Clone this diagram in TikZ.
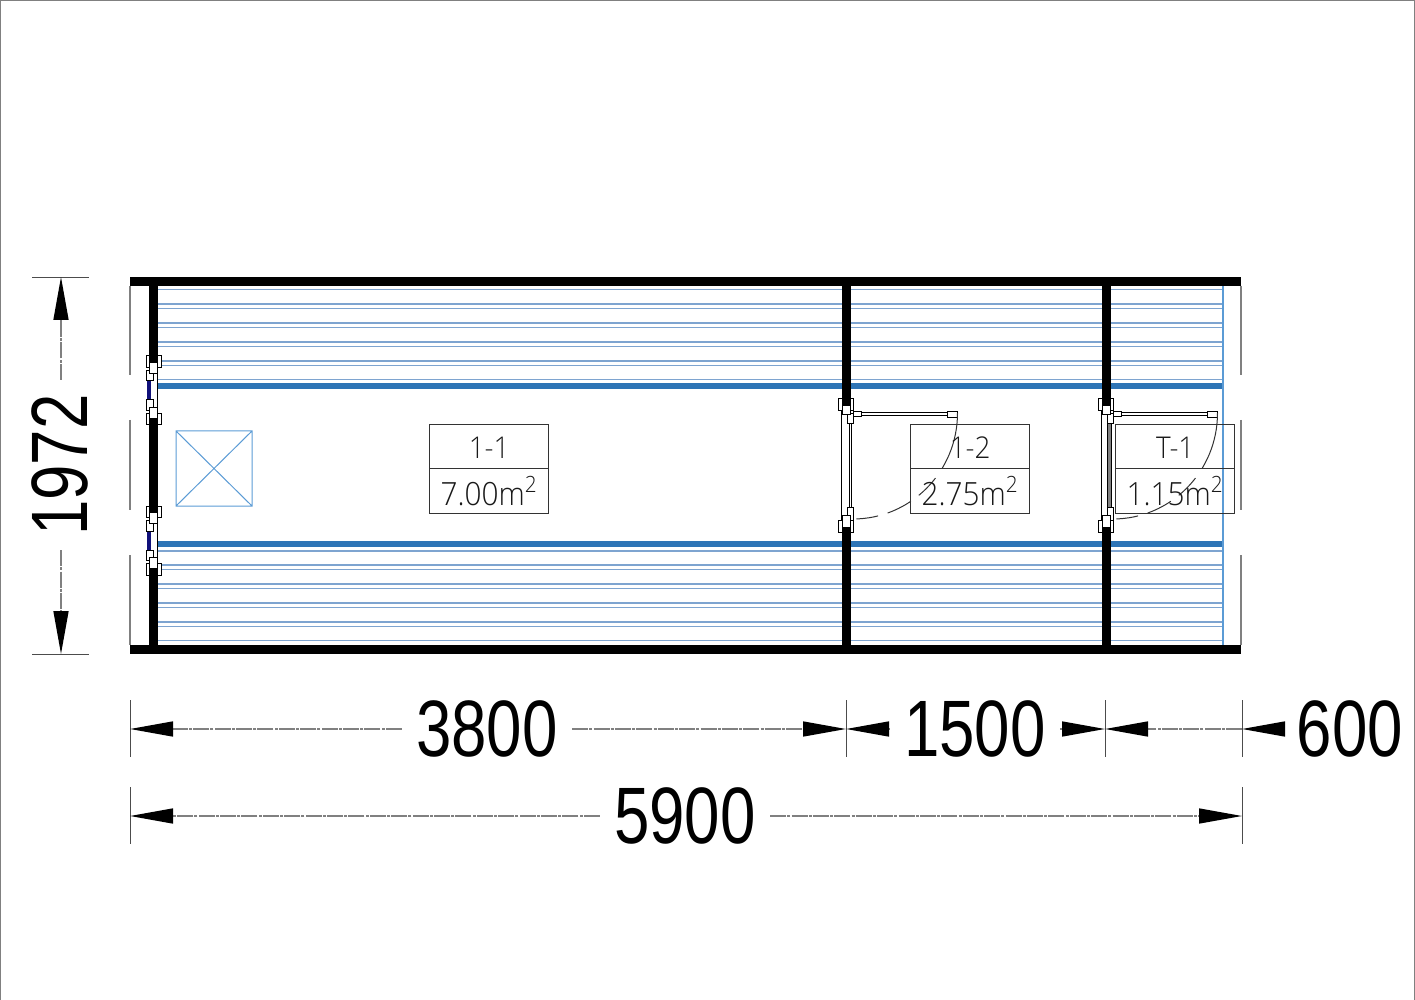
\documentclass[tikz,border=0pt]{standalone}
\usepackage{fontspec}
\usetikzlibrary{arrows.meta}
\setmainfont{Open Sans}
\newfontfamily\dimfont[FakeStretch=0.795]{Liberation Sans}
\newfontfamily\labelfont[FakeStretch=0.93]{Open Sans Light}
\definecolor{bandblue}{HTML}{2E75B6}
\definecolor{slatblue}{HTML}{7EA4D0}
\definecolor{thinblue}{HTML}{5B9BD5}
\definecolor{glassblue}{HTML}{10107A}
\tikzset{
	wall/.style={fill=black, draw=none},
	slat/.style={color=slatblue, line width=0.85pt},
	band/.style={color=bandblue, line width=3pt},
	part/.style={draw=black, fill=white, line width=0.4pt},
	side/.style={color=gray, line width=0.7pt},
	extline/.style={color=black!70, line width=0.45pt},
	dimline/.style={color=gray, line width=0.75pt, dash pattern=on 8pt off 0.6pt on 1.5pt off 0.6pt, -{Triangle[black, length=21.5pt, width=7.5pt]}},
	dimtext/.style={font=\dimfont\fontsize{40}{40}\selectfont, inner sep=7pt},
	roombox/.style={draw=black!80, line width=0.5pt},
	roomtext/.style={font=\labelfont\fontsize{15}{16}\selectfont, text=black!90, inner sep=0pt},
	swing/.style={color=black!80, line width=0.5pt}
}
\begin{document}
\begin{tikzpicture}[x=0.5pt, y=-0.5pt]
	\useasboundingbox (0, 0) rectangle (1415, 1000);
	% page edge
	\draw[color=gray, line width=0.5pt] (0.5, 1000) -- (0.5, 0.5) -- (1414.5, 0.5) -- (1414.5, 1000);

	% slats, each room
	\foreach \y in {289.5, 304, 308.5, 323, 327.5, 342, 346.5, 361, 365.5, 379.5, 551, 565, 569.5, 584, 588.5, 603, 607.5, 622, 626.5, 640.5} {
			\draw[slat] (158, \y) -- (1223, \y);
		}
	\draw[band] (158, 386) -- (1223, 386);
	\draw[band] (158, 544) -- (1223, 544);
	\draw[color=thinblue, line width=0.7pt] (1223, 286) -- (1223, 645);

	% skylight
	\draw[color=thinblue, line width=0.5pt] (176, 431) rectangle (252, 506) (176, 431) -- (252, 506) (176, 506) -- (252, 431);

	% window and door plates, under the walls
	\foreach \c in {390, 540.5} {
			\foreach \s in {-1, 1} {
					\draw[part] (146, \c + \s * 23) rectangle (161, \c + \s * 34.5);
				}
		}
	\foreach \dx in {0, 260} {
			\draw[part] (838 + \dx, 398) rectangle (853 + \dx, 410);
			\draw[part] (838 + \dx, 520) rectangle (853 + \dx, 532);
		}

	% outer walls
	\fill[wall] (130, 277) rectangle (1241, 286);
	\fill[wall] (130, 645) rectangle (1241, 654);
	\fill[wall] (149, 286) rectangle (158, 365);
	\fill[wall] (149, 418) rectangle (158, 515);
	\fill[wall] (149, 566) rectangle (158, 645);
	% inner walls
	\foreach \dx in {0, 260} {
			\fill[wall] (841.5 + \dx, 286) rectangle (850.5 + \dx, 407);
			\fill[wall] (841.5 + \dx, 525) rectangle (850.5 + \dx, 645);
		}

	% thin side lines
	\foreach \x in {130, 1241} {
			\draw[side] (\x, 286) -- (\x, 375);
			\draw[side] (\x, 420) -- (\x, 510);
			\draw[side] (\x, 555) -- (\x, 645);
		}

	% windows on the left wall
	\foreach \c in {390, 540.5} {
			\draw[color=black, line width=0.5pt] (157.7, \c - 20) -- (157.7, \c + 20);
			\fill[color=glassblue] (147, \c - 9.5) rectangle (151, \c + 9.5);
			\foreach \s in {-1, 1} {
					\draw[part] (146, \c + \s * 9.5) rectangle (153, \c + \s * 20);
					\draw[part] (149, \c + \s * 17) rectangle (157, \c + \s * 28);
				}
		}

	% doors
	\foreach \dx/\jl/\jr/\jamb in {0/849/851/white, 260/847.3/851.7/gray} {
			\draw[color=black, line width=0.5pt] (841.7 + \dx, 410) -- (841.7 + \dx, 521);
			\draw[color=black, line width=0.4pt, fill=\jamb] (\jl + \dx, 423) rectangle (\jr + \dx, 507);
			\draw[part] (847.7 + \dx, 413) rectangle (853 + \dx, 423);
			\draw[part] (842 + \dx, 405) rectangle (850 + \dx, 414);
			\draw[part] (853 + \dx, 411.7) rectangle (861 + \dx, 416.7);
			\draw[part] (861 + \dx, 412.3) rectangle (947 + \dx, 415.7);
			\draw[part] (947 + \dx, 411.7) rectangle (957.3 + \dx, 417.7);
			\draw[part] (847.5 + \dx, 507) rectangle (853 + \dx, 520);
			\draw[part] (842 + \dx, 515) rectangle (850 + \dx, 527);
			\draw[swing, dash pattern=on 29pt off 6pt on 12pt off 5pt on 13pt off 5pt on 11pt off 10pt] (957.5 + \dx, 413) arc[start angle=0, end angle=-90, x radius=104.5, y radius=-106];
		}

	% room labels
	\foreach \n/\x/\name/\area in {a/429.7/1-1/7.00, b/910.7/1-2/2.75, c/1115.7/T-1/1.15} {
			\draw[roombox] (\x, 424.5) rectangle (\x + 119, 513) (\x, 468.5) -- (\x + 119, 468.5);
			\node[roomtext] (name\n) at (\x + 59.5, 448) {\name};
			\node[roomtext, font=\labelfont\fontsize{16}{16}\selectfont] (area\n) at (\x + 59.5, 491) {\area m\textsuperscript{2}};
		}

	% dimension marks
	\coordinate (m0) at (130, 729);
	\coordinate (m1) at (846, 729);
	\coordinate (m2) at (1105, 729);
	\coordinate (m3) at (1242, 729);
	\coordinate (t0) at (130, 816);
	\coordinate (t3) at (1242, 816);
	\coordinate (h0) at (61, 277);
	\coordinate (h1) at (61, 654);
	\foreach \p in {m0, m1, m2, m3} {
			\draw[extline] (\p) ++(0, -29) -- ++(0, 57);
		}
	\foreach \p in {t0, t3} {
			\draw[extline] (\p) ++(0, -29) -- ++(0, 57);
		}
	\foreach \p in {h0, h1} {
			\draw[extline] (\p) ++(-29, 0) -- ++(57, 0);
		}

	% dimension texts
	\node[dimtext] (d3800) at (487, 729) {3800};
	\node[dimtext] (d1500) at (975, 729) {1500};
	\node[dimtext] (d600) at (1350, 729) {600};
	\node[dimtext] (d5900) at (685, 816) {5900};
	\node[dimtext, rotate=90] (d1972) at (60, 465) {1972};

	% dimension lines
	\draw[dimline] (d3800.west) -- (m0);
	\draw[dimline] (d3800.east) -- (m1);
	\draw[dimline] (d1500.west) -- (m1);
	\draw[dimline] (d1500.east) -- (m2);
	\draw[dimline] (m3) -- (m2);
	\draw[dimline] (d600.west) -- (m3);
	\draw[dimline] (d5900.west) -- (t0);
	\draw[dimline] (d5900.east) -- (t3);
	\draw[dimline] (d1972.east -| h0) -- (h0);
	\draw[dimline] (d1972.west -| h1) -- (h1);
\end{tikzpicture}
\end{document}
